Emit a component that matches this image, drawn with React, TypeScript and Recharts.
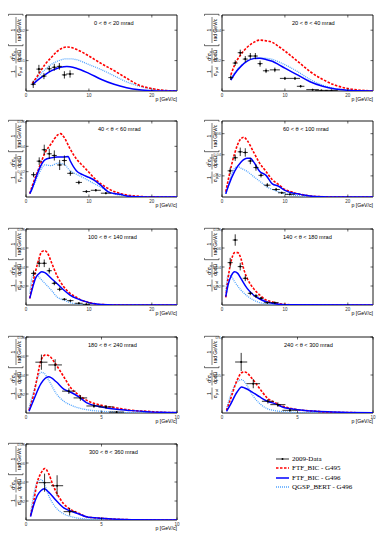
import React from 'react';
import { ComposedChart, Line, Scatter, XAxis, YAxis, ErrorBar, ReferenceArea } from 'recharts';

type Pt = [number, number];
type DP = [number, number, number, number]; // p, value, x-error, y-error

// ---------- 0 < theta < 20 mrad ----------
const P1_G495: Pt[] = [[1,0.0025],[2,0.0055],[3,0.0087],[4,0.011],[5,0.0131],[6,0.0143],[6.5,0.0145],[7,0.0144],[8,0.0137],[9,0.0127],[10,0.0115],[12,0.009],[14,0.0067],[16,0.0042],[18,0.0019],[20,0.0008],[22,0.0002],[24,0]];
const P1_G496: Pt[] = [[1,0.002],[2,0.0038],[3,0.0053],[4,0.0066],[5,0.0075],[6,0.008],[6.5,0.0081],[7,0.008],[8,0.0075],[10,0.0058],[12,0.0038],[14,0.0022],[16,0.0011],[18,0.0004],[20,0.0001],[22,0],[24,0]];
const P1_BERT: Pt[] = [[1,0.0022],[2,0.0048],[3,0.007],[4,0.0087],[5,0.0098],[6,0.0105],[6.5,0.0106],[7,0.0106],[8,0.0103],[10,0.0087],[12,0.007],[14,0.005],[16,0.003],[18,0.0016],[20,0.0007],[22,0.0002],[24,0]];
const P1_DATA: DP[] = [[1.15,0.0022,0.4,0.0012],[2.05,0.0072,0.4,0.0014],[2.85,0.0049,0.4,0.001],[3.7,0.0073,0.4,0.001],[4.5,0.0078,0.4,0.0011],[5.3,0.0081,0.4,0.0011],[6.1,0.0053,0.4,0.0012],[7.0,0.0056,0.6,0.0012]];

// ---------- 20 < theta < 40 mrad ----------
const P2_G495: Pt[] = [[1.4,0.0106],[2,0.017],[3,0.024],[4,0.0288],[5,0.0319],[6,0.0335],[7,0.033],[8,0.032],[9,0.0293],[10,0.0263],[12,0.0196],[14,0.0128],[16,0.0076],[18,0.0038],[20,0.0016],[22,0.0005],[24,0.0001]];
const P2_G496: Pt[] = [[1.4,0.0072],[2,0.0112],[3,0.0162],[4,0.0196],[5,0.0213],[6,0.0216],[7,0.0207],[8,0.0196],[9,0.0174],[10,0.015],[12,0.0106],[14,0.0061],[16,0.0031],[18,0.0013],[20,0.0005],[22,0.0001],[24,0]];
const P2_BERT: Pt[] = [[1.4,0.0075],[2,0.0118],[3,0.0165],[4,0.0198],[5,0.0215],[6,0.0218],[7,0.0215],[8,0.0208],[9,0.0192],[10,0.0173],[12,0.0128],[14,0.0076],[16,0.0038],[18,0.0016],[20,0.0006],[22,0.0002],[24,0]];
const P2_DATA: DP[] = [[1.4,0.0088,0.4,0.0015],[2.1,0.0184,0.4,0.0018],[2.9,0.0252,0.4,0.002],[3.7,0.021,0.4,0.002],[4.5,0.023,0.4,0.002],[5.3,0.023,0.4,0.002],[6.05,0.018,0.4,0.002],[7.0,0.0133,0.5,0.0015],[8.4,0.0139,0.8,0.0015],[10.0,0.0083,0.8,0.001],[11.6,0.0083,0.8,0.001],[12.5,0.0031,0.6,0.0008],[14.4,0.0009,1.0,0.0005],[15.8,0.0004,1.0,0.0004],[17.4,0.0004,1.0,0.0004]];

// ---------- 40 < theta < 60 mrad ----------
const P3_G495: Pt[] = [[0.6,0.0027],[1,0.0088],[2,0.0221],[3,0.0347],[4,0.0421],[5,0.0488],[5.5,0.05],[6,0.0475],[7,0.0381],[8,0.0301],[9,0.0248],[10,0.0195],[11,0.0141],[12,0.0101],[13,0.0069],[14,0.0043],[15,0.0027],[16,0.0016],[18,0.0005],[20,0.0001],[24,0]];
const P3_G496: Pt[] = [[0.6,0.0027],[1,0.007],[1.5,0.0141],[2,0.0208],[3,0.0293],[4,0.0309],[5,0.0315],[6,0.0315],[6.7,0.032],[7,0.0288],[8,0.0208],[9,0.0176],[10,0.0155],[11,0.0128],[12,0.0088],[13,0.0043],[14,0.0027],[15,0.0021],[16,0.0008],[18,0.0002],[20,0],[24,0]];
const P3_BERT: Pt[] = [[0.6,0.0027],[1,0.0065],[2,0.018],[3,0.0253],[4,0.0248],[5,0.0267],[6,0.026],[7,0.0208],[8,0.018],[9,0.0155],[10,0.0128],[11,0.0101],[12,0.0075],[13,0.0043],[14,0.0025],[16,0.0008],[18,0.0002],[24,0]];
const P3_DATA: DP[] = [[1.2,0.0176,0.4,0.002],[2.1,0.0283,0.4,0.003],[2.9,0.0373,0.4,0.004],[3.7,0.0341,0.4,0.004],[4.5,0.0328,0.4,0.004],[5.35,0.0253,0.4,0.004],[6.1,0.0288,0.4,0.004],[7.05,0.0187,0.5,0.002],[8.4,0.0115,0.5,0.0015],[9.6,0.0043,0.6,0.001],[11.1,0.0053,0.8,0.001],[12.7,0.003,0.8,0.0008]];

// ---------- 60 < theta < 100 mrad ----------
const P4_G495: Pt[] = [[0.6,0.005],[1,0.0164],[2,0.0412],[3,0.0552],[3.5,0.0567],[4,0.0536],[5,0.0428],[6,0.0319],[7,0.0242],[8,0.0164],[9,0.0118],[10,0.0071],[11,0.005],[12,0.0031],[13,0.0019],[14,0.001],[16,0.0003],[18,0.0001],[24,0]];
const P4_G496: Pt[] = [[0.6,0.0031],[1,0.0102],[2,0.0242],[3,0.0329],[4,0.0366],[4.5,0.0366],[5,0.0335],[6,0.0242],[7,0.0205],[8,0.0124],[9,0.0102],[10,0.0062],[11,0.004],[12,0.0031],[13,0.0019],[14,0.001],[16,0.0003],[18,0.0001],[24,0]];
const P4_BERT: Pt[] = [[0.6,0.003],[1,0.011],[2,0.0273],[2.5,0.0288],[3,0.0273],[4,0.0242],[5,0.0195],[6,0.0149],[7,0.0102],[8,0.0071],[9,0.005],[10,0.0031],[12,0.0012],[14,0.0003],[16,0.0001],[24,0]];
const P4_DATA: DP[] = [[1.3,0.0248,0.4,0.003],[2.1,0.0372,0.4,0.003],[2.9,0.0428,0.4,0.004],[3.7,0.0422,0.4,0.004],[4.5,0.0341,0.4,0.003],[5.4,0.0279,0.4,0.003],[6.2,0.0205,0.4,0.002],[7.2,0.0112,0.5,0.002],[8.6,0.0071,0.6,0.0015],[9.5,0.004,0.6,0.001],[10.8,0.0025,0.8,0.0008]];

// ---------- 100 < theta < 140 mrad ----------
const P5_G495: Pt[] = [[0.6,0.007],[1,0.021],[1.5,0.035],[2,0.0474],[2.5,0.0561],[3,0.0572],[3.5,0.0537],[4,0.0456],[5,0.0298],[6,0.0193],[7,0.0123],[8,0.0081],[9,0.0046],[10,0.0025],[11,0.0012],[12,0.0005],[14,0.0001],[24,0]];
const P5_G496: Pt[] = [[0.6,0.007],[1,0.017],[1.5,0.028],[2,0.0326],[2.5,0.0351],[3,0.034],[4,0.0281],[5,0.0221],[6,0.0158],[7,0.0105],[8,0.007],[9,0.0046],[10,0.0025],[11,0.0012],[12,0.0005],[14,0.0001],[24,0]];
const P5_BERT: Pt[] = [[0.6,0.012],[1,0.03],[1.5,0.0333],[2,0.0298],[3,0.0228],[4,0.0158],[5,0.0081],[6,0.0053],[7,0.0025],[8,0.0012],[9,0.0006],[10,0.0002],[24,0]];
const P5_DATA: DP[] = [[1.2,0.0333,0.4,0.003],[2.1,0.0439,0.4,0.004],[2.9,0.0439,0.4,0.004],[3.7,0.0361,0.4,0.003],[4.5,0.0228,0.4,0.002],[5.35,0.0165,0.4,0.002],[6.1,0.006,0.4,0.001],[7.05,0.0046,0.5,0.001],[8.4,0.0018,0.6,0.0008],[9.6,0.0007,0.6,0.0005]];

// ---------- 140 < theta < 180 mrad ----------
const P6_G495: Pt[] = [[0.6,0.008],[1,0.0298],[1.5,0.0474],[2,0.0551],[2.5,0.0551],[3,0.0491],[3.5,0.0368],[4,0.0281],[5,0.0175],[6,0.0105],[7,0.0053],[8,0.0032],[9,0.0015],[10,0.0007],[12,0.0001],[24,0]];
const P6_G496: Pt[] = [[0.6,0.0088],[1,0.0221],[1.5,0.0312],[2,0.0351],[2.5,0.0333],[3,0.0281],[4,0.0175],[5,0.0105],[6,0.0063],[7,0.0035],[8,0.0018],[9,0.0008],[10,0.0003],[24,0]];
const P6_BERT: Pt[] = [[0.6,0.015],[1,0.0316],[1.5,0.0298],[2,0.0246],[3,0.0158],[4,0.0095],[5,0.0053],[6,0.0025],[7,0.0012],[8,0.0005],[10,0.0001],[24,0]];
const P6_DATA: DP[] = [[1.3,0.0446,0.4,0.005],[2.1,0.0684,0.4,0.006],[2.9,0.0404,0.4,0.004],[3.7,0.0281,0.4,0.003],[4.5,0.0123,0.4,0.002],[5.4,0.0095,0.4,0.002],[6.2,0.007,0.4,0.0015],[7.2,0.0025,0.5,0.001],[8.4,0.0025,0.6,0.001]];

// ---------- 180 < theta < 240 mrad ----------
const P7_G495: Pt[] = [[0.2,0.003],[0.5,0.0188],[0.75,0.038],[1,0.0559],[1.3,0.0612],[1.5,0.0605],[2,0.0506],[2.5,0.0382],[3,0.0258],[3.5,0.0188],[4,0.0135],[5,0.0081],[6,0.0053],[7,0.0028],[8,0.0018],[9,0.0007],[10,0.0003]];
const P7_G496: Pt[] = [[0.2,0.0018],[0.5,0.0135],[1,0.0312],[1.5,0.0382],[2,0.0329],[2.5,0.0251],[3,0.0216],[3.5,0.017],[4,0.011],[5,0.0064],[6,0.0039],[7,0.0025],[8,0.0014],[9,0.0007],[10,0.0004]];
const P7_BERT: Pt[] = [[0.2,0.005],[0.5,0.0223],[1,0.0428],[1.2,0.0418],[1.5,0.0347],[2,0.0205],[2.5,0.0124],[3,0.0081],[3.5,0.0053],[4,0.0035],[5,0.0018],[6,0.0008],[7,0.0003],[10,0]];
const P7_DATA: DP[] = [[1.02,0.0535,0.4,0.008],[1.93,0.0506,0.45,0.006],[2.84,0.023,0.45,0.003],[3.6,0.0159,0.45,0.003],[4.5,0.0074,0.5,0.002],[5.3,0.0064,0.5,0.002],[6.0,0.001,0.5,0.001]];

// ---------- 240 < theta < 300 mrad ----------
const P8_G495: Pt[] = [[0.3,0.0035],[0.5,0.0145],[1,0.043],[1.3,0.0531],[1.5,0.054],[2,0.0452],[2.5,0.032],[3,0.0197],[3.5,0.0136],[4,0.0092],[5,0.0044],[6,0.0026],[7,0.0013],[8,0.0007],[10,0.0002]];
const P8_G496: Pt[] = [[0.3,0.0022],[0.5,0.009],[1,0.0276],[1.3,0.0342],[1.5,0.0329],[2,0.0276],[2.5,0.0211],[3,0.0154],[3.5,0.0123],[4,0.0079],[5,0.0044],[6,0.0026],[7,0.0015],[8,0.0009],[10,0.0003]];
const P8_BERT: Pt[] = [[0.3,0.005],[0.5,0.0189],[1,0.0408],[1.3,0.0439],[1.5,0.0408],[2,0.0241],[2.5,0.0123],[3,0.0057],[3.5,0.0031],[4,0.0018],[5,0.0007],[6,0.0003],[10,0]];
const P8_DATA: DP[] = [[1.27,0.0671,0.4,0.012],[2.07,0.0386,0.45,0.006],[3.04,0.0154,0.4,0.003],[3.7,0.011,0.5,0.003],[4.5,0.0035,0.5,0.002]];

// ---------- 300 < theta < 360 mrad ----------
const P9_G495: Pt[] = [[0.3,0.0046],[0.5,0.0188],[0.75,0.04],[1,0.0496],[1.25,0.0542],[1.5,0.0488],[1.75,0.0382],[2,0.0294],[2.5,0.017],[3,0.0106],[3.5,0.0071],[4,0.0035],[5,0.0018],[6,0.0008],[7,0.0003],[10,0]];
const P9_G496: Pt[] = [[0.3,0.0035],[0.5,0.0152],[0.75,0.0258],[1,0.0311],[1.2,0.0329],[1.5,0.0294],[2,0.0205],[2.5,0.0127],[3,0.0092],[3.5,0.0064],[4,0.0035],[5,0.0018],[6,0.0008],[7,0.0003],[10,0]];
const P9_BERT: Pt[] = [[0.3,0.007],[0.5,0.0258],[0.75,0.04],[1,0.0425],[1.25,0.0365],[1.5,0.0258],[2,0.0127],[2.5,0.0064],[3,0.0035],[4,0.001],[5,0.0003],[10,0]];
const P9_DATA: DP[] = [[1.23,0.0393,0.4,0.0095],[2.06,0.0361,0.4,0.011],[2.89,0.0088,0.4,0.004]];

const TITLES = ['0 < θ < 20 mrad', '20 < θ < 40 mrad', '40 < θ < 60 mrad', '60 < θ < 100 mrad', '100 < θ < 140 mrad', '140 < θ < 180 mrad', '180 < θ < 240 mrad', '240 < θ < 300 mrad', '300 < θ < 360 mrad'];
const X_MAX = [24, 24, 24, 24, 24, 24, 10, 10, 10];
const X_TICKS = [[0,10,20],[0,10,20],[0,10,20],[0,10,20],[0,10,20],[0,10,20],[0,5,10],[0,5,10],[0,5,10]];
const Y_MAX = [0.025, 0.05, 0.06, 0.072, 0.08, 0.08, 0.08, 0.1, 0.08];
const Y_TICKS = [[0.01,0.02],[0.02,0.04],[0.02,0.04,0.06],[0.02,0.04,0.06],[0.02,0.04,0.06,0.08],[0.02,0.04,0.06,0.08],[0.02,0.04,0.06,0.08],[0.05,0.1],[0.02,0.04,0.06,0.08]];
const SERIES_G495 = [P1_G495, P2_G495, P3_G495, P4_G495, P5_G495, P6_G495, P7_G495, P8_G495, P9_G495];
const SERIES_G496 = [P1_G496, P2_G496, P3_G496, P4_G496, P5_G496, P6_G496, P7_G496, P8_G496, P9_G496];
const SERIES_BERT = [P1_BERT, P2_BERT, P3_BERT, P4_BERT, P5_BERT, P6_BERT, P7_BERT, P8_BERT, P9_BERT];
const SERIES_DATA = [P1_DATA, P2_DATA, P3_DATA, P4_DATA, P5_DATA, P6_DATA, P7_DATA, P8_DATA, P9_DATA];
const LEGEND = ['2009-Data', 'FTF_BIC - G495', 'FTF_BIC - G496', 'QGSP_BERT - G496'];

// layout
const W = 151;
const H = 76;
const COL_LEFT = [26, 222];
const ROW_TOP = [15, 121, 229, 337, 444];
const TITLE_X = [94, 292, 98, 283, 88, 283, 88, 284, 89];
const ML = 22, MT = 4, MR = 4, MB = 14;

const RED = '#ff0000';
const BLUE = '#0000ff';
const LBLUE = '#4fa3ff';
const SANS = '"Liberation Sans", Arial, sans-serif';
const SERIF = '"Liberation Serif", "Times New Roman", serif';

const toPts = (a: Pt[]) => a.map(([p, y]) => ({ p, y }));
const toData = (a: DP[]) => a.map(([p, y, ex, ey]) => ({ p, y, ex, ey }));

const XTick = (props: any) => {
  const { x, y, payload } = props;
  return (
    <g>
      <line x1={x} x2={x} y1={y} y2={y - 2.5} stroke="#000" strokeWidth={0.6} />
      <line x1={x} x2={x} y1={y - H} y2={y - H + 2.5} stroke="#000" strokeWidth={0.6} />
      <text x={x} y={y + 5.5} fontSize={4.5} textAnchor="middle" fill="#333" fontFamily={SANS}>{payload.value}</text>
    </g>
  );
};

const YTick = (props: any) => {
  const { x, y, payload } = props;
  return (
    <g>
      <line x1={x} x2={x + 2.5} y1={y} y2={y} stroke="#000" strokeWidth={0.6} />
      <line x1={x + W} x2={x + W - 2.5} y1={y} y2={y} stroke="#000" strokeWidth={0.6} />
      <text x={x - 1} y={y + 1.5} fontSize={4} textAnchor="end" fill="#444" fontFamily={SANS}>{payload.value}</text>
    </g>
  );
};

const Dot = (props: any) => <circle cx={props.cx} cy={props.cy} r={1} fill="#000" />;

function Panel({ i }: { i: number }) {
  const left = COL_LEFT[i % 2];
  const top = ROW_TOP[Math.floor(i / 2)];
  const xMax = X_MAX[i];
  const yMax = Y_MAX[i];
  return (
    <div style={{ position: 'absolute', left: left - ML, top: top - MT }}>
      <ComposedChart width={ML + W + MR} height={MT + H + MB} margin={{ top: MT, right: MR, bottom: 0, left: 0 }}>
        <XAxis type="number" dataKey="p" domain={[0, xMax]} ticks={X_TICKS[i]} interval={0} allowDataOverflow
          height={MB} axisLine={false} tickLine={false} tickSize={0} tickMargin={0} tick={<XTick />} />
        <YAxis type="number" dataKey="y" domain={[0, yMax]} ticks={Y_TICKS[i]} interval={0} allowDataOverflow
          width={ML} axisLine={false} tickLine={false} tickSize={0} tickMargin={0} tick={<YTick />} />
        <Line data={toPts(SERIES_BERT[i])} dataKey="y" type="monotone" stroke={LBLUE} strokeWidth={1.3} strokeDasharray="1 1" dot={false} activeDot={false} isAnimationActive={false} />
        <Line data={toPts(SERIES_G495[i])} dataKey="y" type="monotone" stroke={RED} strokeWidth={1.6} strokeDasharray="2.5 1.5" dot={false} activeDot={false} isAnimationActive={false} />
        <Line data={toPts(SERIES_G496[i])} dataKey="y" type="monotone" stroke={BLUE} strokeWidth={1.5} dot={false} activeDot={false} isAnimationActive={false} />
        <Scatter data={toData(SERIES_DATA[i])} dataKey="y" fill="#000" shape={<Dot />} isAnimationActive={false}>
          <ErrorBar dataKey="ex" direction="x" width={0} stroke="#000" strokeWidth={0.8} />
          <ErrorBar dataKey="ey" direction="y" width={0} stroke="#000" strokeWidth={0.8} />
        </Scatter>
        <ReferenceArea x1={0} x2={xMax} y1={0} y2={yMax} fill="none" fillOpacity={0} stroke="#000" strokeWidth={0.9} ifOverflow="visible" />
      </ComposedChart>
    </div>
  );
}

function YTitle({ left, top }: { left: number; top: number }) {
  const fs = 5;
  const fsSub = 3.2;
  return (
    <g transform={`translate(${left - 10}, ${top + 63}) rotate(-90)`} fontFamily={SANS} fill="#000">
      <line x1={0.5} x2={12.5} y1={0} y2={0} stroke="#000" strokeWidth={0.5} />
      <text x={6.5} y={-1} fontSize={fs} textAnchor="middle">1</text>
      <text x={6.5} y={4.6} fontSize={fs} textAnchor="middle">σ<tspan fontSize={fsSub} dy={1}>prod</tspan></text>
      <line x1={14.5} x2={30} y1={0} y2={0} stroke="#000" strokeWidth={0.5} />
      <text x={22.2} y={-1} fontSize={fs} textAnchor="middle">d<tspan fontSize={fsSub} dy={-1.6}>2</tspan><tspan dy={1.6}>σ</tspan><tspan fontSize={fsSub} dy={1}>π</tspan></text>
      <text x={22.2} y={4.6} fontSize={fs} textAnchor="middle">dpdΩ</text>
      <path d="M33.8 -7.5 L32.3 -7.5 L32.3 7 L33.8 7" fill="none" stroke="#000" strokeWidth={0.6} />
      <line x1={35} x2={61} y1={0} y2={0} stroke="#000" strokeWidth={0.5} />
      <text x={48} y={-1} fontSize={fs} textAnchor="middle">1</text>
      <text x={48} y={4.6} fontSize={fs} textAnchor="middle">rad GeV/c</text>
      <path d="M62.2 -7.5 L63.7 -7.5 L63.7 7 L62.2 7" fill="none" stroke="#000" strokeWidth={0.6} />
    </g>
  );
}

export default function App() {
  const idx = [0, 1, 2, 3, 4, 5, 6, 7, 8];
  const legendY = [459, 468, 478, 487];
  return (
    <div style={{ position: 'absolute', left: 0, top: 0, width: 392, height: 536, background: '#fff', overflow: 'hidden' }}>
      {idx.map((i) => <Panel key={i} i={i} />)}
      <svg width={392} height={536} style={{ position: 'absolute', left: 0, top: 0, pointerEvents: 'none' }}>
        {idx.map((i) => {
          const left = COL_LEFT[i % 2];
          const top = ROW_TOP[Math.floor(i / 2)];
          return (
            <g key={i}>
              <text x={TITLE_X[i]} y={top + 10} fontSize={5.6} fontFamily={SANS} fill="#000">{TITLES[i]}</text>
              <text x={left + W} y={top + H + 10} fontSize={5.2} fontFamily={SANS} textAnchor="end" fill="#000">p [GeV/c]</text>
              <YTitle left={left} top={top} />
            </g>
          );
        })}
        <g fontFamily={SERIF} fontSize={7} fill="#000">
          <line x1={276} x2={289} y1={legendY[0]} y2={legendY[0]} stroke="#000" strokeWidth={0.8} />
          <circle cx={282.5} cy={legendY[0]} r={1} fill="#000" />
          <text x={292} y={legendY[0] + 2.4}>{LEGEND[0]}</text>
          <line x1={276} x2={289} y1={legendY[1]} y2={legendY[1]} stroke={RED} strokeWidth={1.6} strokeDasharray="2.5 1.5" />
          <text x={292} y={legendY[1] + 2.4}>{LEGEND[1]}</text>
          <line x1={276} x2={289} y1={legendY[2]} y2={legendY[2]} stroke={BLUE} strokeWidth={1.5} />
          <text x={292} y={legendY[2] + 2.4}>{LEGEND[2]}</text>
          <line x1={276} x2={289} y1={legendY[3]} y2={legendY[3]} stroke={LBLUE} strokeWidth={1.3} strokeDasharray="1 1" />
          <text x={292} y={legendY[3] + 2.4}>{LEGEND[3]}</text>
        </g>
      </svg>
    </div>
  );
}
